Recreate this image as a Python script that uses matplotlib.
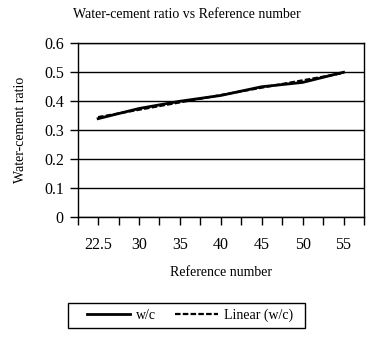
import numpy as np
import matplotlib
matplotlib.use('Agg')
import matplotlib.pyplot as plt
from matplotlib.patches import Rectangle

plt.rcParams['font.family'] = ['Liberation Serif', 'DejaVu Serif']

# 데이터
ref_labels = ['22.5', '30', '35', '40', '45', '50', '55']
wc_ratio = [0.34, 0.375, 0.40, 0.42, 0.45, 0.465, 0.50]
y_ticks = [0, 0.1, 0.2, 0.3, 0.4, 0.5, 0.6]

fig = plt.figure(figsize=(3.77, 3.4), dpi=100)
ax = fig.add_axes([0.206, 0.361, 0.7595, 0.5118])

# 범주 축: 데이터는 홀수 위치, 눈금은 짝수 위치 포함
pos = np.arange(len(ref_labels)) * 2 + 1
ax.plot(pos, wc_ratio, color='black', lw=2, label='w/c', zorder=3)

# 선형 추세선
coef = np.polyfit(np.arange(len(wc_ratio)), wc_ratio, 1)
trend = np.polyval(coef, np.arange(len(wc_ratio)))
ax.plot(pos, trend, color='black', lw=1.6, ls=(0, (2.5, 1)), label='Linear (w/c)', zorder=4)

ax.set_xlim(0, 14)
ax.set_ylim(0, 0.6)
ax.set_xticks(pos)
ax.set_xticklabels(ref_labels)
ax.set_xticks(np.arange(0, 15, 2), minor=True)
ax.set_yticks(y_ticks)
ax.set_yticklabels(['0', '0.1', '0.2', '0.3', '0.4', '0.5', '0.6'])
ax.grid(axis='y', color='black', lw=1)
ax.set_axisbelow(True)

ax.tick_params(axis='both', which='both', direction='out', length=5.5, width=1, color='black', labelsize=11.5)
ax.tick_params(axis='x', which='major', pad=9)
ax.tick_params(axis='y', pad=4.5)
for s in ax.spines.values():
    s.set_linewidth(1)
    s.set_color('black')

ax.set_xlabel('Reference number', fontsize=10, labelpad=9)
ax.set_ylabel('Water-cement ratio', fontsize=10, labelpad=12)
fig.text(0.495, 0.956, 'Water-cement ratio vs Reference number', ha='center', va='center', fontsize=10)

# 범례 (테두리는 따로 그림)
leg = fig.legend(loc='center', bbox_to_anchor=(0.504, 0.0726), ncol=2, fontsize=10,
                 frameon=False, handlelength=3.1, columnspacing=1.37, handletextpad=0.43)
fig.patches.append(Rectangle((0.1796, 0.0362), 0.6294, 0.0718, transform=fig.transFigure,
                             fill=False, edgecolor='black', lw=1))

fig.savefig('out.png', dpi=100)
